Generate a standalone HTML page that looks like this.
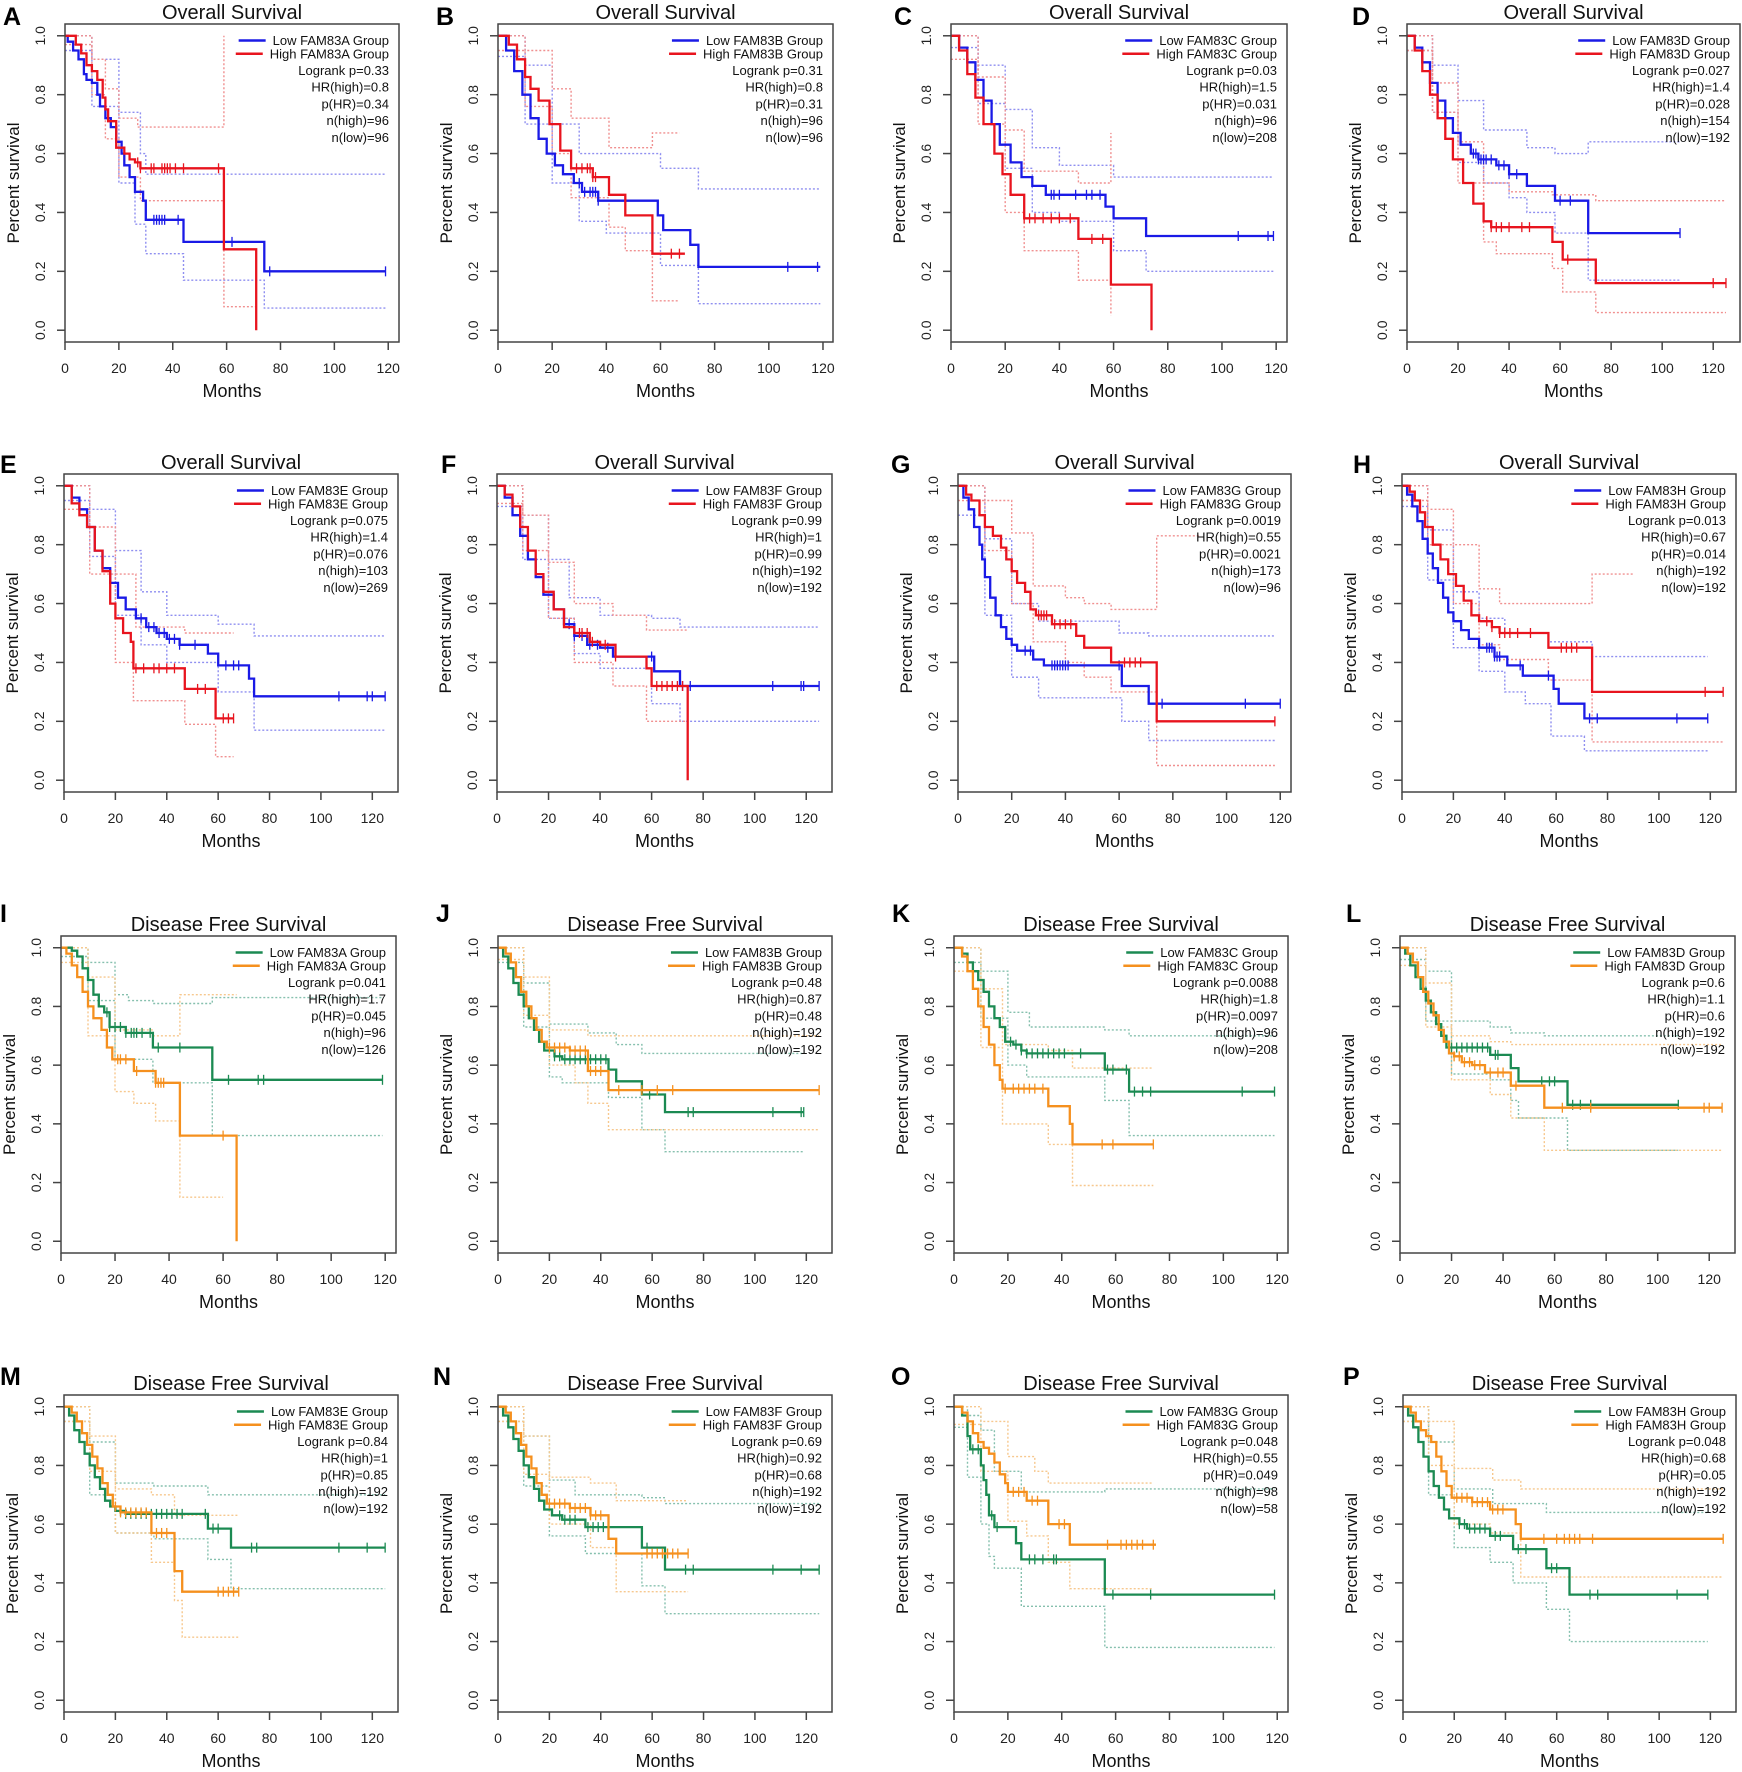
<!DOCTYPE html>
<html><head><meta charset="utf-8"><title>FAM83 survival</title>
<style>
html,body{margin:0;padding:0;background:#fff;}
svg{display:block;font-family:"Liberation Sans",Arial,sans-serif;}
</style></head>
<body>
<svg id="fig" width="1742" height="1772" viewBox="0 0 1742 1772" xmlns="http://www.w3.org/2000/svg"></svg>
<script>
// ---- data: curves are flat [month, survival] step pairs (last pair = end of follow-up) ----
const A_low=[0,1,1,0.98,3,0.95,5,0.92,7,0.87,8,0.85,10,0.84,12,0.8,13,0.76,15,0.72,17,0.69,19,0.64,21,0.6,22,0.56,24,0.52,26,0.47,29,0.44,30,0.375,44,0.3,74,0.2,119,0.2];
const A_high=[0,1,2,1,4,0.97,6,0.94,8,0.9,10,0.88,12,0.85,14,0.79,15,0.75,16,0.71,19,0.62,22,0.6,24,0.58,26,0.57,28,0.55,59,0.275,71,0];
const A_lowCens=[33,34,35,36,37,42,62,76,119];
const A_highCens=[27,28,32,33,36,37,38,39,41,44,57];
const A_lowUp=[0,1,10,0.92,20,0.74,28,0.6,30,0.53,119,0.53];
const A_lowLo=[0,0.95,10,0.76,20,0.5,26,0.36,30,0.26,44,0.17,74,0.075,119,0.075];
const A_highUp=[0,1,10,0.92,15,0.82,20,0.72,27,0.69,59,1.0,59,1.0];
const A_highLo=[0,0.97,10,0.8,15,0.65,20,0.52,28,0.44,59,0.08,71,0.08];

const B_low=[0,1,3,0.95,6,0.88,9,0.8,12,0.72,15,0.65,18,0.6,21,0.56,24,0.53,28,0.5,31,0.47,37,0.44,59,0.39,61,0.34,71,0.29,74,0.215,119,0.215];
const B_high=[0,1,4,0.97,7,0.92,10,0.86,12,0.82,15,0.78,19,0.7,23,0.61,27,0.55,35,0.52,41,0.46,47,0.39,57,0.26,69,0.26];
const B_lowCens=[30,32,34,35,36,37,107,118];
const B_highCens=[29,31,33,34,35,36,64,67];
const B_lowUp=[0,1,10,0.9,20,0.7,30,0.6,60,0.55,74,0.48,119,0.48];
const B_lowLo=[0,0.93,10,0.7,20,0.5,30,0.37,40,0.33,60,0.22,74,0.09,119,0.09];
const B_highUp=[0,1,10,0.95,20,0.82,27,0.72,41,0.62,57,0.67,67,0.67];
const B_highLo=[0,0.95,10,0.76,20,0.6,27,0.45,41,0.35,47,0.27,57,0.1,67,0.1];

const C_low=[0,1,3,0.96,6,0.91,9,0.85,12,0.78,15,0.7,18,0.63,22,0.57,26,0.52,30,0.49,35,0.46,57,0.42,60,0.38,72,0.32,119,0.32];
const C_high=[0,1,3,0.95,6,0.87,9,0.79,12,0.7,16,0.6,19,0.53,22,0.46,27,0.38,47,0.31,59,0.155,74,0];
const C_lowCens=[37,38,40,46,50,52,55,106,117,119];
const C_highCens=[27,29,31,34,37,40,44,52,56];
const C_lowUp=[0,1,10,0.9,20,0.75,30,0.62,40,0.56,60,0.52,119,0.52];
const C_lowLo=[0,0.96,10,0.77,20,0.55,30,0.4,40,0.37,60,0.27,72,0.2,119,0.2];
const C_highUp=[0,1,10,0.86,20,0.68,27,0.54,47,0.5,59,0.67,59,0.67];
const C_highLo=[0,0.92,10,0.7,20,0.4,27,0.27,47,0.17,59,0.05,59,0.05];

const D_low=[0,1,3,0.96,6,0.91,9,0.84,12,0.78,15,0.72,18,0.67,21,0.63,25,0.6,28,0.58,35,0.56,40,0.53,47,0.49,58,0.44,71,0.33,107,0.33];
const D_high=[0,1,3,0.95,6,0.88,9,0.8,12,0.72,15,0.65,18,0.58,22,0.5,26,0.43,30,0.37,33,0.35,57,0.3,61,0.24,74,0.16,125,0.16];
const D_lowCens=[26,27,28,29,30,31,33,36,38,40,43,60,64,107];
const D_highCens=[33,35,37,40,45,48,63,120,125];
const D_lowUp=[0,1,10,0.9,20,0.78,30,0.68,47,0.62,58,0.6,71,0.64,107,0.64];
const D_lowLo=[0,0.95,10,0.74,20,0.57,30,0.5,40,0.45,47,0.4,58,0.33,71,0.17,107,0.17];
const D_highUp=[0,1,10,0.84,20,0.64,30,0.5,40,0.47,57,0.46,74,0.44,125,0.44];
const D_highLo=[0,0.95,10,0.74,20,0.5,30,0.3,35,0.26,57,0.21,61,0.13,74,0.06,125,0.06];

const E_low=[0,1,3,0.96,6,0.92,9,0.86,12,0.78,15,0.72,18,0.67,21,0.62,24,0.58,28,0.55,32,0.52,36,0.5,40,0.48,45,0.46,56,0.43,60,0.39,72,0.345,74,0.285,125,0.285];
const E_high=[0,1,3,0.94,6,0.9,9,0.86,12,0.78,15,0.71,18,0.6,20,0.55,23,0.5,26,0.47,27,0.38,47,0.31,59,0.21,66,0.21];
const E_lowCens=[30,33,35,37,39,41,43,45,51,63,66,68,107,118,120,125];
const E_highCens=[28,31,35,37,40,43,52,55,62,64,66];
const E_lowUp=[0,1,10,0.92,20,0.78,30,0.64,40,0.56,60,0.53,74,0.49,125,0.49];
const E_lowLo=[0,0.95,10,0.76,20,0.56,30,0.46,40,0.4,60,0.3,74,0.17,125,0.17];
const E_highUp=[0,1,10,0.86,20,0.7,28,0.52,47,0.5,66,0.5];
const E_highLo=[0,0.92,10,0.7,20,0.4,27,0.27,47,0.19,59,0.08,66,0.08];

const F_low=[0,1,3,0.96,6,0.9,9,0.83,12,0.75,15,0.69,18,0.63,22,0.58,26,0.53,30,0.49,35,0.46,40,0.45,45,0.42,61,0.37,71,0.32,125,0.32];
const F_high=[0,1,3,0.97,6,0.93,9,0.86,12,0.78,15,0.7,18,0.64,22,0.58,26,0.52,30,0.5,36,0.47,40,0.46,46,0.42,58,0.38,60,0.32,74,0];
const F_lowCens=[28,30,33,36,39,43,60,72,75,107,118,119,125];
const F_highCens=[32,33,35,37,42,46,62,64,66,68,70,72];
const F_lowUp=[0,1,10,0.9,20,0.75,28,0.62,40,0.56,60,0.55,71,0.52,125,0.52];
const F_lowLo=[0,0.93,10,0.75,20,0.55,30,0.43,40,0.38,60,0.26,71,0.2,125,0.2];
const F_highUp=[0,1,10,0.9,20,0.74,30,0.6,45,0.56,58,0.51,74,0.51];
const F_highLo=[0,0.94,10,0.78,20,0.55,30,0.4,45,0.32,58,0.2,74,0.2];

const G_low=[0,1,2,0.96,4,0.92,6,0.86,8,0.8,9,0.75,10,0.69,12,0.62,14,0.56,16,0.52,18,0.48,20,0.46,22,0.44,28,0.41,32,0.39,61,0.32,71,0.26,120,0.26];
const G_high=[0,1,3,0.97,5,0.95,8,0.9,10,0.86,13,0.83,16,0.79,18,0.75,20,0.71,22,0.67,25,0.64,27,0.58,29,0.56,35,0.53,44,0.49,47,0.45,57,0.4,74,0.2,118,0.2];
const G_lowCens=[25,27,35,36,37,38,39,40,41,60,76,107,120];
const G_highCens=[30,31,32,33,36,38,40,42,62,64,66,68,118];
const G_lowUp=[0,1,10,0.82,20,0.6,30,0.54,60,0.5,71,0.49,118,0.49];
const G_lowLo=[0,0.9,10,0.56,20,0.35,30,0.28,61,0.2,71,0.135,118,0.135];
const G_highUp=[0,1,10,0.95,20,0.84,28,0.66,40,0.62,47,0.6,57,0.58,74,0.83,90,0.83];
const G_highLo=[0,0.95,10,0.78,20,0.6,28,0.47,40,0.4,47,0.35,57,0.3,74,0.05,118,0.05];

const H_low=[0,1,2,0.97,4,0.93,6,0.88,8,0.82,10,0.77,12,0.72,14,0.67,16,0.62,18,0.57,20,0.54,23,0.51,26,0.48,30,0.45,36,0.42,41,0.39,47,0.355,59,0.31,61,0.26,71,0.21,119,0.21];
const H_high=[0,1,3,0.98,5,0.95,7,0.91,9,0.86,12,0.8,15,0.75,18,0.7,21,0.66,24,0.61,27,0.56,30,0.54,35,0.52,38,0.5,57,0.45,74,0.3,125,0.3];
const H_lowCens=[33,34,35,36,37,38,46,57,73,76,107,119];
const H_highCens=[33,35,38,40,42,45,50,62,64,66,68,118,125];
const H_lowUp=[0,1,10,0.85,20,0.64,30,0.55,40,0.5,57,0.47,74,0.42,119,0.42];
const H_lowLo=[0,0.93,10,0.68,20,0.45,30,0.37,40,0.3,48,0.26,58,0.15,71,0.1,119,0.1];
const H_highUp=[0,1,10,0.92,20,0.8,30,0.65,38,0.6,57,0.6,74,0.7,90,0.7];
const H_highLo=[0,0.95,10,0.8,20,0.6,30,0.46,38,0.41,57,0.34,74,0.13,125,0.13];

const I_low=[0,1,4,0.99,6,0.97,8,0.93,10,0.89,12,0.84,14,0.8,16,0.78,18,0.73,24,0.71,34,0.66,56,0.55,119,0.55];
const I_high=[0,1,2,0.98,4,0.94,6,0.9,8,0.85,10,0.8,12,0.76,15,0.72,17,0.66,19,0.62,27,0.58,35,0.54,44,0.36,65,0];
const I_lowCens=[17,18,20,22,24,26,27,28,30,33,36,44,62,73,75,119];
const I_highCens=[21,22,24,28,35,36,37,38,60];
const I_lowUp=[0,1,10,0.95,20,0.84,25,0.82,34,0.81,56,0.83,119,0.83];
const I_lowLo=[0,0.97,10,0.82,20,0.62,34,0.54,56,0.36,119,0.36];
const I_highUp=[0,1,10,0.9,20,0.72,34,0.7,44,0.84,65,0.84];
const I_highLo=[0,0.95,10,0.7,20,0.51,27,0.47,35,0.41,44,0.15,60,0.15];

const J_low=[0,1,2,0.97,4,0.93,6,0.88,8,0.84,10,0.8,12,0.76,14,0.72,16,0.68,18,0.65,22,0.63,25,0.62,43,0.585,46,0.545,56,0.5,65,0.44,119,0.44];
const J_high=[0,1,3,0.98,5,0.95,7,0.9,9,0.85,11,0.8,13,0.76,15,0.72,17,0.68,19,0.66,28,0.65,35,0.58,43,0.515,125,0.515];
const J_lowCens=[22,24,26,28,30,32,34,36,38,40,42,59,74,76,107,118,119];
const J_highCens=[20,22,24,26,28,30,32,34,36,38,40,47,56,62,68,125];
const J_lowUp=[0,1,10,0.88,20,0.74,35,0.71,46,0.67,56,0.64,119,0.64];
const J_lowLo=[0,0.95,10,0.73,20,0.56,25,0.54,43,0.49,56,0.38,65,0.305,119,0.305];
const J_highUp=[0,1,10,0.9,20,0.72,35,0.7,125,0.7];
const J_highLo=[0,0.96,10,0.77,20,0.6,30,0.54,35,0.47,43,0.38,125,0.38];

const K_low=[0,1,3,0.98,5,0.95,7,0.92,9,0.89,11,0.85,13,0.8,15,0.76,17,0.73,19,0.68,22,0.67,25,0.65,27,0.64,56,0.585,65,0.51,119,0.51];
const K_high=[0,1,3,0.97,5,0.92,7,0.86,9,0.8,11,0.73,13,0.67,15,0.6,17,0.55,18,0.52,35,0.46,43,0.4,44,0.33,74,0.33];
const K_lowCens=[21,23,25,27,29,31,33,35,37,39,41,47,57,59,64,67,70,73,107,119];
const K_highCens=[19,22,24,26,28,30,33,55,59,74];
const K_lowUp=[0,1,10,0.92,20,0.78,28,0.73,56,0.72,65,0.7,119,0.7];
const K_lowLo=[0,0.95,10,0.76,20,0.6,27,0.56,56,0.48,65,0.36,119,0.36];
const K_highUp=[0,1,10,0.86,18,0.67,35,0.65,44,0.59,74,0.59];
const K_highLo=[0,0.92,10,0.66,18,0.4,35,0.33,44,0.19,74,0.19];

const L_low=[0,1,2,0.98,4,0.94,6,0.9,8,0.86,10,0.82,12,0.78,14,0.74,16,0.7,18,0.66,35,0.635,43,0.59,46,0.545,65,0.465,108,0.465];
const L_high=[0,1,3,0.98,5,0.95,7,0.9,9,0.85,11,0.81,13,0.77,15,0.72,17,0.68,19,0.64,21,0.63,24,0.61,28,0.6,33,0.575,43,0.53,56,0.455,125,0.455];
const L_lowCens=[20,22,24,26,28,30,32,34,37,38,55,58,60,67,70,74,108];
const L_highCens=[21,23,25,27,29,31,35,38,40,45,63,74,118,120,125];
const L_lowUp=[0,1,10,0.92,20,0.75,35,0.73,43,0.71,56,0.7,108,0.7];
const L_lowLo=[0,0.96,10,0.75,20,0.57,35,0.55,43,0.48,46,0.42,65,0.31,108,0.31];
const L_highUp=[0,1,10,0.88,20,0.7,35,0.68,43,0.67,125,0.67];
const L_highLo=[0,0.94,10,0.73,20,0.55,35,0.5,43,0.42,56,0.31,125,0.31];

const M_low=[0,1,2,0.97,4,0.92,6,0.88,8,0.84,10,0.8,12,0.76,14,0.72,16,0.68,18,0.66,20,0.645,24,0.635,56,0.585,65,0.52,125,0.52];
const M_high=[0,1,3,0.98,5,0.95,7,0.91,9,0.87,11,0.83,13,0.79,15,0.74,17,0.7,19,0.66,22,0.64,34,0.57,43,0.44,46,0.37,68,0.37];
const M_lowCens=[22,24,26,28,30,32,34,36,38,40,42,44,46,55,58,60,73,75,107,118,125];
const M_highCens=[20,22,24,26,28,30,32,36,38,40,60,62,64,66,68];
const M_lowUp=[0,1,10,0.88,20,0.74,35,0.73,56,0.7,125,0.7];
const M_lowLo=[0,0.95,10,0.7,20,0.57,35,0.55,56,0.48,65,0.38,125,0.38];
const M_highUp=[0,1,10,0.9,20,0.72,34,0.7,43,0.63,68,0.63];
const M_highLo=[0,0.95,10,0.78,20,0.57,34,0.47,43,0.34,46,0.215,68,0.215];

const N_low=[0,1,2,0.97,4,0.93,6,0.89,8,0.85,10,0.8,12,0.76,14,0.72,16,0.68,18,0.65,21,0.63,25,0.615,34,0.59,56,0.52,65,0.445,125,0.445];
const N_high=[0,1,3,0.98,5,0.95,7,0.91,9,0.87,11,0.83,13,0.79,15,0.74,17,0.7,19,0.67,28,0.655,36,0.63,43,0.55,46,0.5,74,0.5];
const N_lowCens=[24,26,28,30,35,37,39,41,43,58,73,76,107,118,125];
const N_highCens=[20,22,24,26,28,30,32,34,36,38,40,58,60,62,64,66,68,70,74];
const N_lowUp=[0,1,10,0.9,20,0.75,30,0.7,56,0.69,65,0.67,125,0.67];
const N_lowLo=[0,0.95,10,0.73,20,0.56,34,0.5,56,0.39,65,0.295,125,0.295];
const N_highUp=[0,1,10,0.9,20,0.76,36,0.74,46,0.68,74,0.68];
const N_highLo=[0,0.95,10,0.77,20,0.6,36,0.52,46,0.37,74,0.37];

const O_low=[0,1,3,0.97,5,0.9,6,0.855,10,0.8,11,0.75,12,0.7,13,0.63,15,0.59,23,0.535,25,0.48,56,0.36,119,0.36];
const O_high=[0,1,3,0.98,5,0.95,7,0.91,9,0.88,11,0.86,13,0.84,15,0.81,17,0.77,19,0.74,20,0.71,27,0.68,35,0.6,43,0.53,75,0.53];
const O_lowCens=[7,9,14,16,28,30,33,37,38,59,73,119];
const O_highCens=[22,24,26,29,31,39,41,57,62,64,66,68,70,74];
const O_lowUp=[0,1,5,0.97,10,0.92,15,0.78,25,0.71,56,0.72,119,0.72];
const O_lowLo=[0,0.93,5,0.76,10,0.6,13,0.49,15,0.45,25,0.32,56,0.18,119,0.18];
const O_highUp=[0,1,10,0.95,20,0.83,30,0.78,35,0.74,74,0.74];
const O_highLo=[0,0.94,10,0.78,20,0.61,27,0.56,35,0.47,43,0.38,74,0.38];

const P_low=[0,1,2,0.97,4,0.93,6,0.88,8,0.83,10,0.78,12,0.73,14,0.69,16,0.65,18,0.62,22,0.6,25,0.585,34,0.56,43,0.515,56,0.45,65,0.36,119,0.36];
const P_high=[0,1,3,0.98,5,0.95,7,0.92,9,0.9,11,0.88,13,0.83,15,0.78,17,0.73,19,0.69,27,0.675,34,0.65,44,0.6,46,0.55,125,0.55];
const P_lowCens=[22,24,26,28,30,32,36,38,45,48,58,60,73,76,107,119];
const P_highCens=[21,23,25,27,29,31,33,35,37,39,55,60,63,65,67,69,74,125];
const P_lowUp=[0,1,10,0.88,20,0.72,35,0.67,56,0.64,119,0.64];
const P_lowLo=[0,0.95,10,0.7,20,0.52,34,0.47,43,0.4,56,0.31,65,0.2,119,0.2];
const P_highUp=[0,1,10,0.95,20,0.79,35,0.75,46,0.72,125,0.72];
const P_highLo=[0,0.95,10,0.8,20,0.6,34,0.57,46,0.42,125,0.42];

// statistics printed in legends
const panelIds=['A','B','C','D','E','F','G','H','I','J','K','L','M','N','O','P'];
const genes=['FAM83A','FAM83B','FAM83C','FAM83D','FAM83E','FAM83F','FAM83G','FAM83H','FAM83A','FAM83B','FAM83C','FAM83D','FAM83E','FAM83F','FAM83G','FAM83H'];
const logrankP=['0.33','0.31','0.03','0.027','0.075','0.99','0.0019','0.013','0.041','0.48','0.0088','0.6','0.84','0.69','0.048','0.048'];
const hrHigh=['0.8','0.8','1.5','1.4','1.4','1','0.55','0.67','1.7','0.87','1.8','1.1','1','0.92','0.55','0.68'];
const pHR=['0.34','0.31','0.031','0.028','0.076','0.99','0.0021','0.014','0.045','0.48','0.0097','0.6','0.85','0.68','0.049','0.05'];
const nHigh=['96','96','96','154','103','192','173','192','96','192','96','192','192','192','98','192'];
const nLow=['96','96','208','192','269','192','96','192','126','192','208','192','192','192','58','192'];
const xTicks=[0,20,40,60,80,100,120];
const yTicks=[0,0.2,0.4,0.6,0.8,1.0];
const yTickLabels=['0.0','0.2','0.4','0.6','0.8','1.0'];

const curveSets={
A:[A_low,A_high,A_lowCens,A_highCens,A_lowUp,A_lowLo,A_highUp,A_highLo],
B:[B_low,B_high,B_lowCens,B_highCens,B_lowUp,B_lowLo,B_highUp,B_highLo],
C:[C_low,C_high,C_lowCens,C_highCens,C_lowUp,C_lowLo,C_highUp,C_highLo],
D:[D_low,D_high,D_lowCens,D_highCens,D_lowUp,D_lowLo,D_highUp,D_highLo],
E:[E_low,E_high,E_lowCens,E_highCens,E_lowUp,E_lowLo,E_highUp,E_highLo],
F:[F_low,F_high,F_lowCens,F_highCens,F_lowUp,F_lowLo,F_highUp,F_highLo],
G:[G_low,G_high,G_lowCens,G_highCens,G_lowUp,G_lowLo,G_highUp,G_highLo],
H:[H_low,H_high,H_lowCens,H_highCens,H_lowUp,H_lowLo,H_highUp,H_highLo],
I:[I_low,I_high,I_lowCens,I_highCens,I_lowUp,I_lowLo,I_highUp,I_highLo],
J:[J_low,J_high,J_lowCens,J_highCens,J_lowUp,J_lowLo,J_highUp,J_highLo],
K:[K_low,K_high,K_lowCens,K_highCens,K_lowUp,K_lowLo,K_highUp,K_highLo],
L:[L_low,L_high,L_lowCens,L_highCens,L_lowUp,L_lowLo,L_highUp,L_highLo],
M:[M_low,M_high,M_lowCens,M_highCens,M_lowUp,M_lowLo,M_highUp,M_highLo],
N:[N_low,N_high,N_lowCens,N_highCens,N_lowUp,N_lowLo,N_highUp,N_highLo],
O:[O_low,O_high,O_lowCens,O_highCens,O_lowUp,O_lowLo,O_highUp,O_highLo],
P:[P_low,P_high,P_lowCens,P_highCens,P_lowUp,P_lowLo,P_highUp,P_highLo]};

// ---- layout (pixels) ----
const boxLeft=[65,498,951,1407, 64,497,958,1402, 61,498,954,1400, 64,498,954,1403];
const boxRight=[399,833,1287,1740, 398,832,1291,1736, 396,832,1288,1735, 398,832,1288,1736];
const xMaxMonths=[124,123.7,124,130.5, 130,130,124,130, 124,130,124,130, 130,130,124,130];
const rowTop=[24,474,936,1395];
const rowBottom=[342,792,1253,1712];
const letterDy=[1,-1,-14,-10];
const letterX=[3,436,894,1352, 0,441,891,1353, 0,436,892,1346, 0,433,891,1343];

const NS='http://www.w3.org/2000/svg';
const fig=document.getElementById('fig');
function el(tag,attrs,parent){const e=document.createElementNS(NS,tag);for(const k in attrs)e.setAttribute(k,attrs[k]);parent.appendChild(e);return e;}
function stepPath(arr,X,Y){let d='M'+X(arr[0]).toFixed(1)+','+Y(arr[1]).toFixed(1);for(let i=2;i<arr.length;i+=2){d+='H'+X(arr[i]).toFixed(1)+'V'+Y(arr[i+1]).toFixed(1);}return d;}
function valAt(arr,t){let v=arr[1];for(let i=0;i<arr.length;i+=2){if(arr[i]<=t)v=arr[i+1];}return v;}

panelIds.forEach((id,i)=>{
  const row=Math.floor(i/4), os=row<2;
  const L=boxLeft[i],R=boxRight[i],T=rowTop[row],B=rowBottom[row];
  const X=m=>L+m*(R-L)/xMaxMonths[i];
  const h=(B-T)/1.08, Y=s=>B-0.04*h-s*h;
  const cLow=os?'#1a1ae6':'#1b8a52', cHigh=os?'#e8141e':'#f5901e';
  const ciLow=os?'#8f8ff0':'#86c0ae', ciHigh=os?'#f09090':'#f7c88e';
  const set=curveSets[id];
  const g=el('g',{},fig);
  
  

  const letter=el('text',{x:letterX[i],y:T+letterDy[row],'font-size':25,'font-weight':'bold',fill:'#000'},g);
  letter.textContent=id;
  
  

  const title=el('text',{x:(L+R)/2,y:T-5,'font-size':20,'text-anchor':'middle',fill:'#111'},g);
  title.textContent=os?'Overall Survival':'Disease Free Survival';
  
  

  // CI lines
  [[set[4],ciLow],[set[5],ciLow],[set[6],ciHigh],[set[7],ciHigh]].forEach((c,k)=>{
    const p=el('path',{d:stepPath(c[0],X,Y),fill:'none',stroke:c[1],'stroke-width':1.4,'stroke-dasharray':'2,2'},g);
    
    
  });
  // curves
  [[set[0],cLow,set[2],'low'],[set[1],cHigh,set[3],'high']].forEach(c=>{
    const p=el('path',{d:stepPath(c[0],X,Y),fill:'none',stroke:c[1],'stroke-width':2.3},g);
    
    
    c[2].forEach(t=>{
      const v=valAt(c[0],t);
      const m=el('line',{x1:X(t),x2:X(t),y1:Y(v)-5,y2:Y(v)+5,stroke:c[1],'stroke-width':1.3},g);
      
      
    });
  });

  // box & axes
  const box=el('rect',{x:L,y:T,width:R-L,height:B-T,fill:'none',stroke:'#444','stroke-width':1.5},g);
  
  
  xTicks.forEach(t=>{
    const tk=el('line',{x1:X(t),x2:X(t),y1:B,y2:B+8,stroke:'#444','stroke-width':1.5},g);
    
    
    const lb=el('text',{x:X(t),y:B+31,'font-size':14,'text-anchor':'middle',fill:'#222'},g);
    lb.textContent=t;
    
    
  });
  yTicks.forEach((s,k)=>{
    const tk=el('line',{x1:L-8,x2:L,y1:Y(s),y2:Y(s),stroke:'#444','stroke-width':1.5},g);
    
    
    const lb=el('text',{x:0,y:0,'font-size':14,'text-anchor':'middle',fill:'#222',transform:`translate(${L-20},${Y(s)}) rotate(-90)`},g);
    lb.textContent=yTickLabels[k];
    
    
  });
  const xt=el('text',{x:(L+R)/2,y:B+55,'font-size':18,'text-anchor':'middle',fill:'#111'},g);
  xt.textContent='Months';
  
  
  const yt=el('text',{x:0,y:0,'font-size':17,'text-anchor':'middle',fill:'#111',transform:`translate(${L-46},${(T+B)/2}) rotate(-90)`},g);
  yt.textContent='Percent survival';
  
  

  // legend
  const tx=R-10;
  const legendRows=['Low '+genes[i]+' Group','High '+genes[i]+' Group'];
  legendRows.forEach((s,k)=>{
    const ty=T+21+k*13.3;
    const t=el('text',{x:tx,y:ty,'font-size':13,'text-anchor':'end',fill:'#111'},g);
    t.textContent=s;
    
    
    const w=t.getComputedTextLength();
    const ln=el('line',{x1:tx-w-34,x2:tx-w-7,y1:ty-4.5,y2:ty-4.5,stroke:k?cHigh:cLow,'stroke-width':2.5},g);
    
    
  });
  const stats=['Logrank p='+logrankP[i],'HR(high)='+hrHigh[i],'p(HR)='+pHR[i],'n(high)='+nHigh[i],'n(low)='+nLow[i]];
  stats.forEach((s,k)=>{
    const t=el('text',{x:tx,y:T+51+k*16.7,'font-size':13,'text-anchor':'end',fill:'#111'},g);
    t.textContent=s;
    
    
  });
});
</script>
</body></html>
